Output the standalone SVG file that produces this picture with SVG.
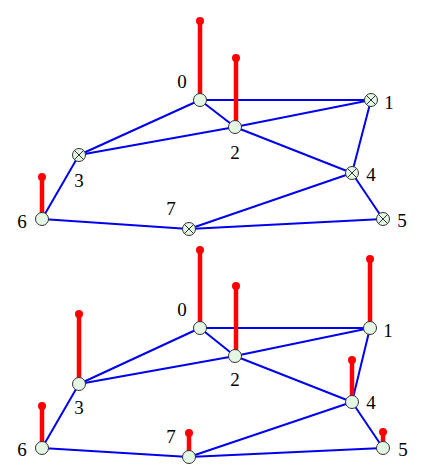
<svg xmlns="http://www.w3.org/2000/svg" width="429" height="468" viewBox="0 0 429 468">
<style>
.e{stroke:#0000ee;stroke-width:2;fill:none}
.s{stroke:#ff0000;stroke-width:4.5}
.d{fill:#ff0000}
.n{fill:#e4f7e4;stroke:#333;stroke-width:1}
.x{stroke:#333;stroke-width:1}
.t{font-family:"Liberation Serif",serif;font-size:19px;fill:#000;text-anchor:middle;dominant-baseline:central}
</style>
<rect width="429" height="468" fill="#fff"/>
<g id="connectors">
<g id="top-edges" class="e">
<line x1="200" y1="100" x2="371" y2="100"/>
<line x1="200" y1="100" x2="235" y2="127"/>
<line x1="200" y1="100" x2="79" y2="155"/>
<line x1="235" y1="127" x2="371" y2="100"/>
<line x1="235" y1="127" x2="79" y2="155"/>
<line x1="235" y1="127" x2="352" y2="173"/>
<line x1="371" y1="100" x2="352" y2="173"/>
<line x1="352" y1="173" x2="383" y2="219"/>
<line x1="352" y1="173" x2="189" y2="229"/>
<line x1="42" y1="219" x2="189" y2="229"/>
<line x1="189" y1="229" x2="383" y2="219"/>
<line x1="79" y1="155" x2="42" y2="219"/>
</g>
<g id="bottom-edges" class="e">
<line x1="200" y1="328" x2="370" y2="328"/>
<line x1="200" y1="328" x2="235" y2="356"/>
<line x1="200" y1="328" x2="79" y2="384"/>
<line x1="235" y1="356" x2="370" y2="328"/>
<line x1="235" y1="356" x2="79" y2="384"/>
<line x1="235" y1="356" x2="352" y2="402"/>
<line x1="370" y1="328" x2="352" y2="402"/>
<line x1="352" y1="402" x2="383" y2="448"/>
<line x1="352" y1="402" x2="189" y2="457"/>
<line x1="42" y1="448" x2="189" y2="457"/>
<line x1="189" y1="457" x2="383" y2="448"/>
<line x1="79" y1="384" x2="42" y2="448"/>
</g>
</g>
<g id="top-sticks">
<line class="s" x1="200" y1="21" x2="200" y2="100"/><circle class="d" cx="200" cy="21" r="4"/>
<line class="s" x1="236" y1="58" x2="236" y2="127"/><circle class="d" cx="236" cy="58" r="4"/>
<line class="s" x1="42" y1="177" x2="42" y2="219"/><circle class="d" cx="42" cy="177" r="4"/>
</g>
<g id="bottom-sticks">
<line class="s" x1="200" y1="250" x2="200" y2="328"/><circle class="d" cx="200" cy="250" r="4"/>
<line class="s" x1="236" y1="286" x2="236" y2="356"/><circle class="d" cx="236" cy="286" r="4"/>
<line class="s" x1="370" y1="259" x2="370" y2="328"/><circle class="d" cx="370" cy="259" r="4"/>
<line class="s" x1="79" y1="314" x2="79" y2="384"/><circle class="d" cx="79" cy="314" r="4"/>
<line class="s" x1="352" y1="360" x2="352" y2="402"/><circle class="d" cx="352" cy="360" r="4"/>
<line class="s" x1="383" y1="432" x2="383" y2="448"/><circle class="d" cx="383" cy="432" r="4"/>
<line class="s" x1="42" y1="406" x2="42" y2="448"/><circle class="d" cx="42" cy="406" r="4"/>
<line class="s" x1="189" y1="433" x2="189" y2="457"/><circle class="d" cx="189" cy="433" r="4"/>
</g>
<g id="t0"><circle class="n" cx="200" cy="100" r="6.5"/><text class="t" x="182" y="81">0</text></g>
<g id="t1"><circle class="n" cx="371" cy="100" r="6.5"/><path class="x" d="M366.4 95.4L375.6 104.6M375.6 95.4L366.4 104.6"/><text class="t" x="389" y="102">1</text></g>
<g id="t2"><circle class="n" cx="235" cy="127" r="6.5"/><text class="t" x="235" y="152">2</text></g>
<g id="t3"><circle class="n" cx="79" cy="155" r="6.5"/><path class="x" d="M74.4 150.4L83.6 159.6M83.6 150.4L74.4 159.6"/><text class="t" x="79" y="180">3</text></g>
<g id="t4"><circle class="n" cx="352" cy="173" r="6.5"/><path class="x" d="M347.4 168.4L356.6 177.6M356.6 168.4L347.4 177.6"/><text class="t" x="371" y="174">4</text></g>
<g id="t5"><circle class="n" cx="383" cy="219" r="6.5"/><path class="x" d="M378.4 214.4L387.6 223.6M387.6 214.4L378.4 223.6"/><text class="t" x="402" y="220">5</text></g>
<g id="t6"><circle class="n" cx="42" cy="219" r="6.5"/><text class="t" x="22" y="221">6</text></g>
<g id="t7"><circle class="n" cx="189" cy="229" r="6.5"/><path class="x" d="M184.4 224.4L193.6 233.6M193.6 224.4L184.4 233.6"/><text class="t" x="171" y="208">7</text></g>
<g id="b0"><circle class="n" cx="200" cy="328" r="6.5"/><text class="t" x="182" y="309">0</text></g>
<g id="b1"><circle class="n" cx="370" cy="328" r="6.5"/><text class="t" x="388" y="330">1</text></g>
<g id="b2"><circle class="n" cx="235" cy="356" r="6.5"/><text class="t" x="235" y="379">2</text></g>
<g id="b3"><circle class="n" cx="79" cy="384" r="6.5"/><text class="t" x="79" y="407">3</text></g>
<g id="b4"><circle class="n" cx="352" cy="402" r="6.5"/><text class="t" x="371" y="402">4</text></g>
<g id="b5"><circle class="n" cx="383" cy="448" r="6.5"/><text class="t" x="403" y="449">5</text></g>
<g id="b6"><circle class="n" cx="42" cy="448" r="6.5"/><text class="t" x="22" y="449">6</text></g>
<g id="b7"><circle class="n" cx="189" cy="457" r="6.5"/><text class="t" x="171" y="436">7</text></g>
</svg>
